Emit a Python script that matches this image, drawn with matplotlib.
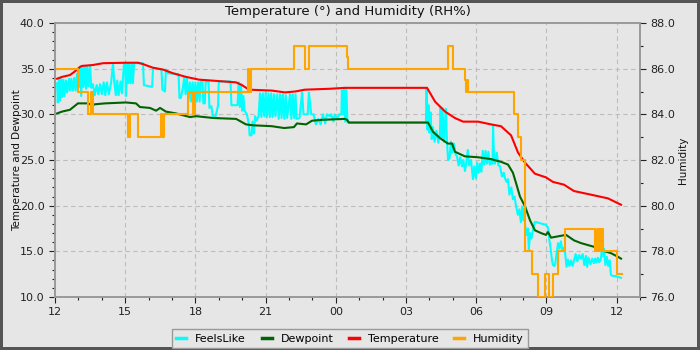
import matplotlib
matplotlib.use('Agg')
import matplotlib.pyplot as plt
from matplotlib.ticker import MultipleLocator, FuncFormatter, FormatStrFormatter
from matplotlib.lines import Line2D

# ---- data (hours since 12:00) ----
temp_t = [0.09, 0.30, 0.64, 0.85, 1.07, 1.15, 1.62, 2.06, 3.03, 3.55, 3.76, 4.19, 4.62, 5.04,
          5.60, 6.15, 7.74, 7.99, 8.29, 9.27, 9.83, 10.26, 10.68, 11.75, 12.39, 15.90, 16.24,
          16.67, 17.09, 17.44, 18.08, 18.63, 19.06, 19.49, 19.79, 20.09, 20.51, 20.98, 21.28,
          21.75, 22.18, 22.91, 23.63, 24.19]
temp_v = [33.9, 34.1, 34.3, 34.7, 35.2, 35.3, 35.4, 35.6, 35.65, 35.65, 35.5, 35.1, 34.9, 34.5,
          34.1, 33.8, 33.5, 33.2, 32.7, 32.6, 32.4, 32.5, 32.7, 32.8, 32.9, 32.9, 31.4,
          30.3, 29.6, 29.2, 29.2, 28.9, 28.7, 27.7, 25.8, 24.7, 23.5, 23.1, 22.6,
          22.3, 21.6, 21.2, 20.8, 20.1]

dew_t = [0.09, 0.30, 0.64, 0.98, 1.41, 1.58, 1.71, 2.14, 3.03, 3.46, 3.63, 4.06, 4.32, 4.49,
         4.74, 5.17, 5.77, 6.03, 6.75, 7.74, 7.95, 8.16, 8.46, 9.27, 9.79, 10.21, 10.34, 10.73,
         10.98, 11.41, 12.39, 12.48, 12.56, 15.94, 16.15, 16.45, 16.79, 16.97, 17.09, 17.52,
         18.08, 18.63, 19.06, 19.36, 19.57, 19.70, 19.87, 20.09, 20.30, 20.51, 20.77, 20.98,
         21.07, 21.20, 21.41, 21.62, 21.84, 22.18, 22.48, 23.03, 23.25, 23.76, 24.06, 24.19]
dew_v = [30.1, 30.3, 30.5, 31.2, 31.2, 31.0, 31.1, 31.2, 31.3, 31.2, 30.8, 30.7, 30.4, 30.7,
         30.3, 30.1, 29.7, 29.8, 29.6, 29.5, 29.2, 28.9, 28.8, 28.7, 28.5, 28.6, 29.0, 28.9,
         29.3, 29.4, 29.5, 29.4, 29.1, 29.1, 28.1, 27.4, 26.8, 26.8, 25.9, 25.4,
         25.3, 25.1, 24.8, 24.5, 23.6, 22.5, 21.0, 19.9, 18.4, 17.3, 17.0, 16.8,
         17.1, 16.5, 16.6, 16.7, 16.8, 16.2, 15.9, 15.5, 15.2, 14.8, 14.4, 14.2]

feels_t = [0.09, 0.12, 0.17, 0.21, 0.26, 0.30, 0.36, 0.40, 0.47, 0.52, 0.60, 0.64, 0.70, 0.76,
           0.82, 0.88, 0.94, 1.02, 1.07, 1.12, 1.17, 1.22, 1.28, 1.33, 1.38, 1.43, 1.50, 1.55,
           1.62, 1.70, 1.78, 1.85, 1.92, 2.00, 2.08, 2.15, 2.22, 2.30, 2.40, 2.48, 2.53, 2.60,
           2.66, 2.72, 2.80, 2.86, 2.95, 3.00, 3.03, 3.08, 3.12, 3.17, 3.22, 3.28, 3.33, 3.38,
           3.76, 3.80, 4.15, 4.19, 4.55, 4.59, 4.70, 4.74, 4.83, 5.28, 5.32, 5.38, 5.47, 5.52,
           5.58, 5.64, 5.70, 5.76, 5.82, 5.88, 5.94, 6.00, 6.06, 6.12, 6.18, 6.22, 6.30, 6.34,
           6.40, 6.44, 6.56, 6.60, 6.68, 6.75, 6.85, 6.92, 6.97, 7.00, 7.50, 7.54, 7.80, 7.85,
           7.90, 7.95, 8.00, 8.05, 8.10, 8.20, 8.28, 8.32, 8.40, 8.44, 8.50, 8.55, 8.62, 8.70,
           8.76, 8.82, 8.88, 8.94, 9.00, 9.06, 9.12, 9.18, 9.24, 9.30, 9.36, 9.42, 9.50, 9.56,
           9.62, 9.68, 9.74, 9.80, 9.86, 9.92, 10.04, 10.10, 10.16, 10.22, 10.28, 10.32, 10.45,
           10.56, 10.62, 10.80, 10.85, 10.95, 11.05, 11.15, 11.25, 11.35, 11.45, 11.55, 11.62,
           11.75, 11.80, 11.90, 11.95, 12.05, 12.15, 12.24, 12.26, 12.30, 12.35, 12.40, 12.45,
           12.50, 15.85, 15.88, 15.92, 15.96, 16.00, 16.05, 16.10, 16.15, 16.22, 16.30, 16.38,
           16.45, 16.48, 16.52, 16.56, 16.62, 16.70, 16.75, 16.80, 16.86, 16.92, 16.97, 17.05,
           17.12, 17.18, 17.25, 17.32, 17.39, 17.45, 17.52, 17.58, 17.64, 17.70, 17.78, 17.86,
           17.92, 17.98, 18.04, 18.10, 18.16, 18.22, 18.28, 18.34, 18.40, 18.46, 18.52, 18.58,
           18.64, 18.70, 18.72, 18.76, 18.80, 18.88, 18.95, 19.02, 19.10, 19.18, 19.23, 19.30,
           19.36, 19.42, 19.50, 19.57, 19.64, 19.70, 19.78, 19.84, 19.91, 19.96, 20.02, 20.06,
           20.09, 20.15, 20.21, 20.25, 20.30, 20.36, 20.43, 20.50, 20.56, 20.70, 20.85, 20.98,
           21.07, 21.12, 21.18, 21.24, 21.28, 21.33, 21.37, 21.42, 21.50, 21.56, 21.62, 21.68,
           21.75, 21.80, 21.86, 21.92, 21.98, 22.05, 22.12, 22.18, 22.25, 22.32, 22.40, 22.48,
           22.55, 22.62, 22.69, 22.74, 22.80, 22.88, 22.96, 23.03, 23.08, 23.14, 23.20, 23.26,
           23.33, 23.38, 23.42, 23.46, 23.52, 23.58, 23.64, 23.70, 23.76, 23.85, 23.95, 24.06,
           24.19]
feels_v = [33.4, 31.3, 33.9, 31.5, 33.9, 31.9, 33.8, 32.0, 33.7, 32.4, 33.9, 32.6, 33.9, 32.6,
           34.0, 32.6, 34.4, 33.0, 35.2, 32.0, 35.2, 33.0, 35.3, 32.8, 35.3, 33.1, 35.3, 32.9,
           33.3, 32.1, 33.2, 32.2, 33.3, 32.2, 33.5, 32.1, 33.5, 32.2, 33.5, 35.6, 33.6, 32.1,
           33.7, 32.1, 33.6, 32.3, 35.6, 35.6, 32.0, 35.6, 33.4, 35.6, 33.4, 35.6, 33.4, 35.6,
           35.6, 33.2, 33.0, 35.1, 34.9, 32.7, 32.5, 34.9, 34.5, 34.4, 31.8, 31.8, 33.0, 34.0,
           32.2, 34.0, 31.4, 33.5, 31.4, 33.5, 31.5, 33.5, 31.4, 33.5, 31.4, 33.6, 33.6, 31.2,
           31.2, 33.6, 33.6, 30.7, 30.9, 29.8, 29.7, 30.4, 31.0, 33.6, 33.6, 31.0, 31.0, 33.5,
           30.8, 33.3, 30.4, 32.0, 30.4, 30.0, 29.0, 27.7, 27.7, 29.2, 27.9, 29.8, 29.3, 29.8,
           32.3, 29.7, 32.3, 29.8, 32.4, 29.7, 32.3, 29.7, 32.3, 29.7, 32.2, 29.8, 32.2, 29.5,
           32.2, 29.6, 32.2, 29.5, 32.1, 29.6, 32.2, 29.5, 32.2, 29.6, 32.2, 29.5, 29.6,
           32.4, 30.0, 30.0, 32.4, 30.0, 30.0, 28.9, 29.5, 28.9, 30.0, 29.0, 30.0,
           29.8, 30.0, 29.2, 30.0, 29.5, 30.0, 30.0, 32.6, 30.0, 32.9, 29.2, 32.9,
           29.1, 29.1, 32.9, 28.3, 31.0, 28.0, 30.2, 27.3, 28.6, 27.0, 28.2, 26.9,
           28.0, 30.8, 27.5, 30.7, 27.0, 30.6, 27.0, 25.0, 25.2, 27.0, 25.8, 26.8,
           25.6, 25.4, 24.4, 25.3, 24.3, 25.0, 23.8, 24.8, 26.1, 24.4, 25.0, 22.9,
           24.3, 23.0, 24.7, 23.6, 24.6, 23.7, 26.0, 24.5, 26.0, 24.6, 25.9, 24.5,
           25.0, 24.6, 28.8, 25.5, 24.6, 25.8, 24.4, 24.3, 23.2, 23.6, 23.0, 22.6,
           22.9, 21.2, 22.0, 20.7, 21.0, 20.0, 19.0, 19.6, 18.2, 19.9, 18.4, 19.7,
           17.8, 16.8, 17.5, 15.2, 17.0, 16.4, 17.4, 18.2, 18.2, 18.1, 18.0, 17.9,
           17.6, 16.4, 15.3, 14.0, 13.5, 13.4, 13.5, 14.5, 15.9, 15.3, 16.1, 15.1,
           15.4, 14.8, 13.3, 14.1, 13.4, 14.0, 13.4, 14.0, 14.7, 13.9, 14.6, 14.2,
           14.7, 13.5, 14.5, 13.3, 14.3, 13.6, 14.2, 13.7, 14.2, 13.8, 14.3, 13.8,
           14.2, 15.5, 14.5, 15.3, 13.5, 14.4, 13.4, 14.0, 12.4, 12.3, 12.3, 12.2,
           12.1]

hum_t = [0.09, 0.98, 1.41, 1.54, 1.62, 3.12, 3.21, 3.55, 4.53, 4.57, 4.66, 5.68, 5.90, 5.98,
         8.25, 8.29, 8.38, 10.21, 10.68, 10.85, 12.48, 12.52, 16.79, 17.01, 17.52, 17.56,
         17.61, 17.65, 19.60, 19.79, 19.93, 20.09, 20.37, 20.63, 20.94, 21.12, 21.27, 21.51,
         21.79, 23.08, 23.15, 23.19, 23.23, 23.27, 23.31, 23.35, 23.39, 23.43, 23.46, 24.00,
         24.22]
hum_v = [86, 85, 84, 85, 84, 83, 84, 83, 84, 83, 84, 85, 84, 85,
         86, 85, 86, 87, 86, 87, 86.5, 86, 87, 86, 85.5, 85,
         85.5, 85, 84, 83, 82, 78, 77, 76, 77, 76, 77, 78,
         79, 78, 79, 78, 79, 78, 79, 78, 79, 78, 78, 77,
         77]

x_ticks = [0, 3, 6, 9, 12, 15, 18, 21, 24]
series_names = ['FeelsLike', 'Dewpoint', 'Temperature', 'Humidity']
series_colors = ['#00ffff', '#006400', '#ff0000', '#ffa500']

# ---- figure ----
BG = '#e6e6e6'
fig = plt.figure(figsize=(7, 3.5), dpi=100, facecolor=BG, edgecolor='#555555', linewidth=3)
ax = fig.add_axes([55 / 700, 53 / 350, 585 / 700, 274 / 350])
ax.set_facecolor(BG)
ax2 = ax.twinx()

lw = 1.5
ax.plot(feels_t, feels_v, color=series_colors[0], lw=lw, zorder=3)
ax.plot(dew_t, dew_v, color=series_colors[1], lw=lw, zorder=4)
ax.plot(temp_t, temp_v, color=series_colors[2], lw=lw, zorder=5)
ax2.plot(hum_t, hum_v, color=series_colors[3], lw=lw, drawstyle='steps-post', zorder=5)

ax.set_xlim(0, 25)
ax.set_ylim(10, 40)
ax2.set_ylim(76, 88)

ax.set_xticks(x_ticks)
ax.xaxis.set_major_formatter(FuncFormatter(lambda v, p: f"{int(round(v + 12)) % 24:02d}"))
ax.xaxis.set_minor_locator(MultipleLocator(1))
ax.yaxis.set_major_locator(MultipleLocator(5))
ax.yaxis.set_minor_locator(MultipleLocator(1))
ax.yaxis.set_major_formatter(FormatStrFormatter('%.1f'))
ax2.yaxis.set_major_locator(MultipleLocator(2))
ax2.yaxis.set_minor_locator(MultipleLocator(1))
ax2.yaxis.set_major_formatter(FormatStrFormatter('%.1f'))

for a in (ax, ax2):
    a.tick_params(which='major', direction='out', length=4, width=0.8, labelsize=8, colors='#222222')
    a.tick_params(which='minor', direction='out', length=2.5, width=0.8, colors='#222222')
    for s in a.spines.values():
        s.set_color('#999999')
        s.set_linewidth(1.2)

ax.grid(True, which='major', linestyle=(0, (4, 3)), color='#bdbdbd', linewidth=0.8)
ax.set_axisbelow(True)

ax.set_ylabel('Temperature and Dewpoint', fontsize=7.5, color='#111111', labelpad=-1.5)
ax2.set_ylabel('Humidity', fontsize=7.5, color='#111111', labelpad=2)
fig.text(0.497, 1 - 11 / 350, 'Temperature (°) and Humidity (RH%)', ha='center', va='center',
         fontsize=9.5, color='#111111')

handles = [Line2D([], [], color=c, lw=2.5) for c in series_colors]
leg = fig.legend(handles, series_names, loc='lower center', bbox_to_anchor=(0.5, 2 / 350),
                 ncol=4, fontsize=8, frameon=True, fancybox=False, edgecolor='#999999',
                 facecolor=BG, framealpha=1, handlelength=0.9, columnspacing=1.4,
                 handletextpad=0.8, borderaxespad=0, borderpad=0.4)
leg.get_frame().set_linewidth(1.0)

fig.savefig('out.png', dpi=100, facecolor=fig.get_facecolor(), edgecolor=fig.get_edgecolor())
